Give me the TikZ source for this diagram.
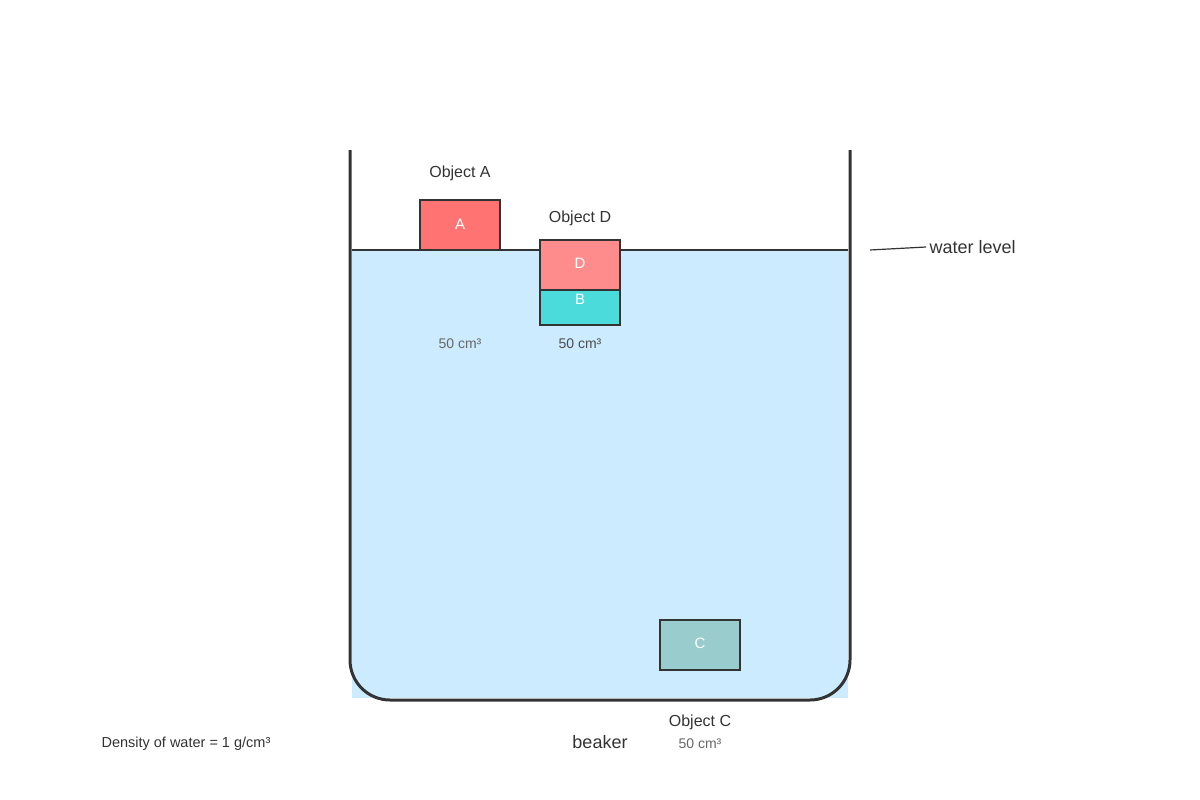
\documentclass[tikz,border=0pt]{standalone}
\usepackage{fontspec}
\setmainfont{Liberation Sans}
\begin{document}
\begin{tikzpicture}[x=1pt,y=-1pt,
    box/.style={draw=black!80, line width=1.5pt},
    lbl/.style={text=black!80, font=\fontsize{16}{18}\selectfont},
    vol/.style={text=black!60, font=\fontsize{14}{16}\selectfont},
    inner/.style={text=white, font=\fontsize{15}{17}\selectfont}]
    \useasboundingbox (0,0) rectangle (1200,800);

    % Acqua
    \fill[cyan!40!blue!20!white, fill=blue!40!cyan!20!white] (352,250) rectangle (848,698);
    \draw[black!80, line width=1.5pt] (352,250) -- (848,250);

    % Becher
    \draw[black!80, line width=3pt, rounded corners=40pt] (350,150) -- (350,700) -- (850,700) -- (850,150);

    % Oggetti
    \draw[box, fill=red!55!white] (420,200) rectangle (500,250);
    \node[inner] (a) at (460,224) {A};
    \draw[box, fill=teal!40!cyan!70!white] (540,290) rectangle (620,325);
    \node[inner] (b) at (580,299) {B};
    \draw[box, fill=red!45!white] (540,240) rectangle (620,290);
    \node[inner] (d) at (580,263) {D};
    \draw[box, fill=teal!40!white] (660,620) rectangle (740,670);
    \node[inner] (c) at (700,643) {C};

    % Testi
    \node[lbl] (oa) at (460,173) {Object A};
    \node[lbl] (od) at (580,218) {Object D};
    \node[lbl] (oc) at (700,722) {Object C};
    \node[vol] (va) at (460,344) {50 cm³};
    \node[vol, text=black!70] (vd) at (580,344) {50 cm³};
    \node[vol] (vc) at (700,744) {50 cm³};
    \node[lbl, font=\fontsize{18}{20}\selectfont] (bk) at (600,742) {beaker};
    \node[lbl, anchor=west, font=\fontsize{14.5}{16}\selectfont] (dens) at (98,744) {Density of water = 1 g/cm³};

    % Livello dell'acqua
    \coordinate (wl) at (870,250);
    \node[lbl, anchor=west, font=\fontsize{18}{20}\selectfont] (wlt) at (926,247) {water level};
    \draw[black!80, line width=1.2pt] (wl) -- (wlt.west);
\end{tikzpicture}
\end{document}
